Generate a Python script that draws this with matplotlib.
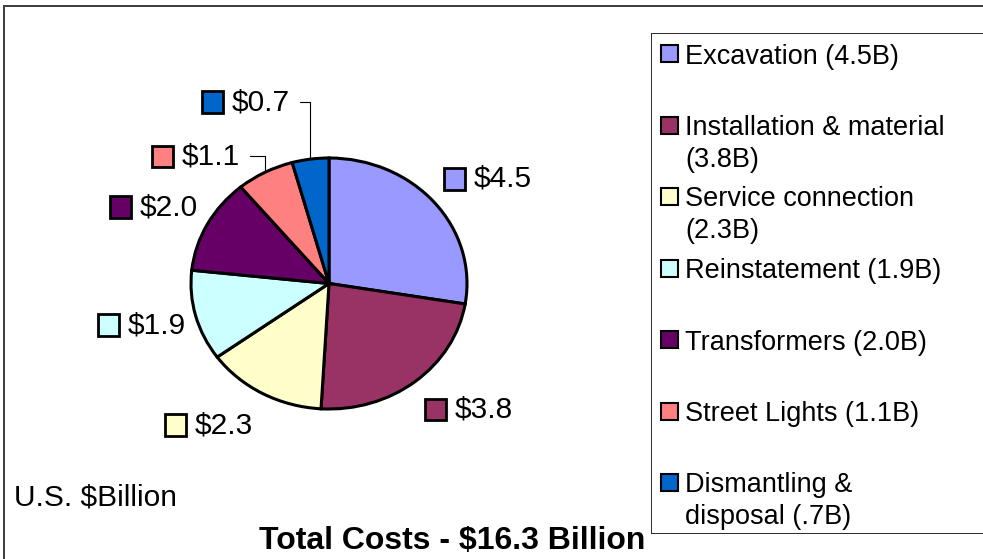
import matplotlib.pyplot as plt
from matplotlib.patches import Rectangle
from matplotlib.offsetbox import AnnotationBbox, HPacker, TextArea, DrawingArea
import numpy as np

plt.rcParams['font.family'] = ['Liberation Sans', 'DejaVu Sans']

# data
values = [4.5, 3.8, 2.3, 1.9, 2.0, 1.1, 0.7]
colors = ['#9999FF', '#993366', '#FFFFCC', '#CCFFFF', '#660066', '#FF8080', '#0066CC']
legend_labels = ['Excavation (4.5B)', 'Installation & material\n(3.8B)',
                 'Service connection\n(2.3B)', 'Reinstatement (1.9B)',
                 'Transformers (2.0B)', 'Street Lights (1.1B)',
                 'Dismantling &\ndisposal (.7B)']
title = 'Total Costs - $16.3 Billion'
unit_text = 'U.S. $Billion'

W, H = 983, 559
fig = plt.figure(figsize=(W / 100, H / 100), dpi=100)

# overlay axes in pixel coords for frame, legend and texts
ov = fig.add_axes([0, 0, 1, 1])
ov.set_xlim(0, W)
ov.set_ylim(H, 0)
ov.axis('off')
# frame and legend box drawn as thin filled bars (they run off the right edge)
bars = [((3, 4.5), W, 2, '#404040'), ((3, 4.5), 2, H, '#404040'),
        ((651, 32.5), W, 1.2, '#303030'), ((651, 532.5), W, 1.2, '#303030'),
        ((651, 32.5), 1.2, 501.2, '#303030')]
for xy, bw, bh, col in bars:
    ov.add_patch(Rectangle(xy, bw, bh, fc=col, lw=0))

# pie (slightly elliptical like the original)
cx, cy, rx, ry = 329, 283.5, 138, 125.5
ax = fig.add_axes([(cx - rx) / W, (H - cy - ry) / H, 2 * rx / W, 2 * ry / H])
wedges, _ = ax.pie(values, colors=colors, startangle=90, counterclock=False,
                   wedgeprops=dict(edgecolor='black', linewidth=2.2))
ax.set_aspect('auto')
ax.set_xlim(-1, 1)
ax.set_ylim(-1, 1)
ax.axis('off')
for w in wedges:
    w.set_clip_on(False)

# data labels with colour keys; two were dragged out with leader lines
drag = {5: (-18, 11.5), 6: (-15, 41)}
for i, (w, v, c) in enumerate(zip(wedges, values, colors)):
    ang = np.deg2rad((w.theta1 + w.theta2) / 2)
    ca, sa = np.cos(ang), np.sin(ang)
    da = DrawingArea(15.5, 15.5, 0, 0)
    da.add_artist(Rectangle((0, 0), 15.5, 15.5, fc=c, ec='black', lw=2))
    box = HPacker(children=[da, TextArea(f'${v:.1f}', textprops=dict(size=21.5))],
                  sep=6, align='center', pad=0)
    if i in drag:
        ab = AnnotationBbox(box, (ca, sa), xybox=drag[i], boxcoords='offset points',
                            box_alignment=(1, 0.5), frameon=False, pad=0,
                            annotation_clip=False,
                            arrowprops=dict(arrowstyle='-', color='black', lw=0.8,
                                            connectionstyle='angle,angleA=0,angleB=90,rad=0',
                                            relpos=(1, 0.5), shrinkA=7, shrinkB=0))
    else:
        off = (7 * np.sign(ca), 26 * sa)
        ab = AnnotationBbox(box, (ca, sa), xybox=off, boxcoords='offset points',
                            box_alignment=(0 if ca > 0 else 1, 0.5),
                            frameon=False, pad=0, annotation_clip=False)
    ax.add_artist(ab)

# legend
leg_top, pitch = 53.5, 71.5
for i, (lab, c) in enumerate(zip(legend_labels, colors)):
    y = leg_top + i * pitch
    ov.add_patch(Rectangle((661, y - 8.5), 17, 17, fc=c, ec='black', lw=1.5))
    for k, line in enumerate(lab.split('\n')):
        ov.text(685, y + 32 * k, line, fontsize=19.5, va='center_baseline')

ov.text(14, 494, unit_text, fontsize=21.5, ha='left', va='center_baseline')
ov.text(452, 538, title, fontsize=23, fontweight='bold', ha='center', va='center_baseline')

fig.savefig('out.png', dpi=100)
